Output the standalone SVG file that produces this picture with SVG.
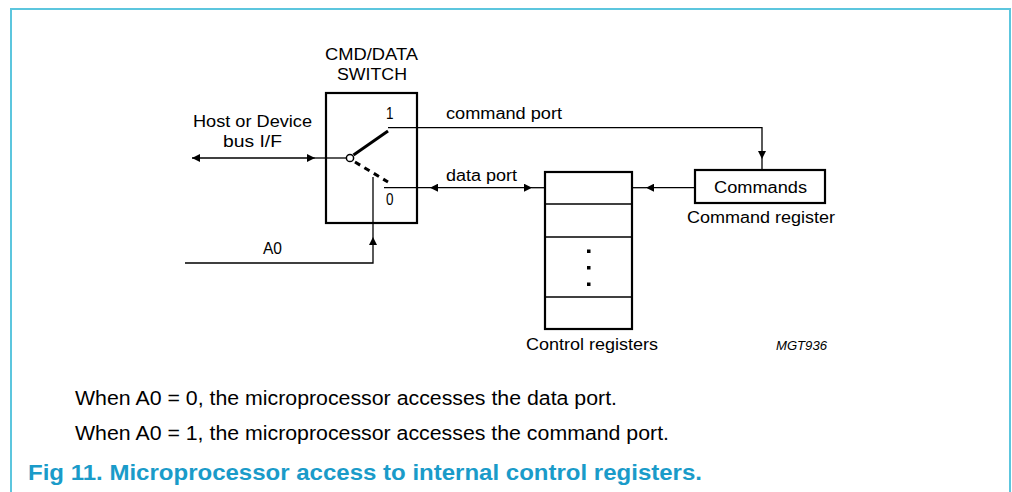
<svg xmlns="http://www.w3.org/2000/svg" width="1012" height="492" viewBox="0 0 1012 492">
<style>
text{font-family:"Liberation Sans",Arial,sans-serif;fill:#000}
.lbl{font-size:16px}
.body{font-size:20px}
.title{font-size:21.5px;font-weight:bold;fill:#1A9BC9}
.box{fill:#fff;stroke:#000;stroke-width:2.2}
.ln{fill:none;stroke:#000;stroke-width:1.3}
.arm{fill:none;stroke:#000;stroke-width:3}
</style>
<defs>
<marker id="ah" viewBox="0 0 10 10" refX="10" refY="5" markerWidth="10" markerHeight="8" markerUnits="userSpaceOnUse" orient="auto">
<path d="M0,0 L10,5 L0,10 Z" fill="#000"/>
</marker>
</defs>
<rect id="frame" x="11" y="9" width="999" height="500" fill="none" stroke="#5CC6DE" stroke-width="2"/>

<g id="switch">
<rect class="box" x="326" y="93" width="91" height="130"/>
<text class="lbl" x="325" y="60" textLength="93" lengthAdjust="spacingAndGlyphs">CMD/DATA</text>
<text class="lbl" x="337" y="80" textLength="70" lengthAdjust="spacingAndGlyphs">SWITCH</text>
<text class="lbl" x="386" y="119" textLength="7.5" lengthAdjust="spacingAndGlyphs">1</text>
<text class="lbl" x="386" y="205" textLength="7.5" lengthAdjust="spacingAndGlyphs">0</text>
<line class="arm" x1="353.5" y1="155" x2="388" y2="131"/>
<line class="arm" x1="355" y1="162" x2="388" y2="182" stroke-dasharray="6,5"/>
<circle cx="350" cy="158" r="3.6" fill="#fff" stroke="#000" stroke-width="1.5"/>
</g>

<g id="control-registers">
<rect class="box" x="545" y="172" width="87" height="157"/>
<line class="ln" x1="545" y1="204" x2="632" y2="204" stroke-width="2"/>
<line class="ln" x1="545" y1="237" x2="632" y2="237" stroke-width="2"/>
<line class="ln" x1="545" y1="297" x2="632" y2="297" stroke-width="2"/>
<rect x="587" y="249.5" width="3.5" height="3.5" fill="#000"/>
<rect x="587" y="266" width="3.5" height="3.5" fill="#000"/>
<rect x="587" y="282.5" width="3.5" height="3.5" fill="#000"/>
<text class="lbl" x="526" y="350" textLength="132" lengthAdjust="spacingAndGlyphs">Control registers</text>
</g>

<g id="command-register">
<rect class="box" x="695" y="170" width="130" height="33"/>
<text class="lbl" x="714" y="193" textLength="93" lengthAdjust="spacingAndGlyphs">Commands</text>
<text class="lbl" x="687" y="223" textLength="148" lengthAdjust="spacingAndGlyphs">Command register</text>
</g>

<g id="labels">
<text class="lbl" x="193" y="127" textLength="119" lengthAdjust="spacingAndGlyphs">Host or Device</text>
<text class="lbl" x="223" y="147" textLength="59" lengthAdjust="spacingAndGlyphs">bus I/F</text>
<text class="lbl" x="263" y="254" textLength="19" lengthAdjust="spacingAndGlyphs">A0</text>
<text class="lbl" x="446" y="119" textLength="116" lengthAdjust="spacingAndGlyphs">command port</text>
<text class="lbl" x="446" y="181" textLength="71" lengthAdjust="spacingAndGlyphs">data port</text>
<text x="776" y="350" font-size="12" font-style="italic" textLength="51" lengthAdjust="spacingAndGlyphs">MGT936</text>
</g>

<g id="connectors">
<path class="ln" d="M250,158 H192" marker-end="url(#ah)"/>
<path class="ln" d="M250,158 H315" marker-end="url(#ah)"/>
<path class="ln" d="M315,158 H346.4"/>
<path class="ln" d="M388,127.7 H762 V159" marker-end="url(#ah)"/>
<path class="ln" d="M762,159 V170"/>
<path class="ln" d="M480,187.7 H430" marker-end="url(#ah)"/>
<path class="ln" d="M430,187.7 H384"/>
<path class="ln" d="M480,187.7 H532" marker-end="url(#ah)"/>
<path class="ln" d="M532,187.7 H545"/>
<path class="ln" d="M695,187.7 H646" marker-end="url(#ah)"/>
<path class="ln" d="M646,187.7 H632"/>
<path class="ln" d="M185,263 H373 V237" marker-end="url(#ah)"/>
<path class="ln" d="M373,237 V177"/>
</g>

<g id="notes">
<text class="body" x="75" y="405" textLength="542" lengthAdjust="spacingAndGlyphs">When A0 = 0, the microprocessor accesses the data port.</text>
<text class="body" x="75" y="440" textLength="594" lengthAdjust="spacingAndGlyphs">When A0 = 1, the microprocessor accesses the command port.</text>
<text class="title" x="28" y="480" textLength="674" lengthAdjust="spacingAndGlyphs">Fig 11. Microprocessor access to internal control registers.</text>
</g>
</svg>
